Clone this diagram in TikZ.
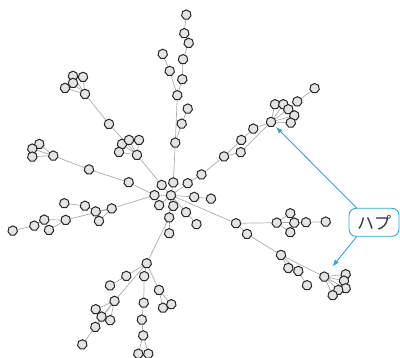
\documentclass[tikz,border=0pt]{standalone}
\usepackage{fontspec}
\newfontfamily\cjk{Noto Sans CJK JP}
\usetikzlibrary{shapes.geometric,arrows.meta,backgrounds}
\definecolor{nfill}{HTML}{E4E4E4}
\definecolor{nline}{HTML}{262626}
\definecolor{eline}{HTML}{ACACAC}
\definecolor{callc}{HTML}{2AA8E2}
\begin{document}
\begin{tikzpicture}[x=1pt,y=-1pt,
  nd/.style={regular polygon, regular polygon sides=7, minimum size=9.6pt, inner sep=0pt, draw=nline, fill=nfill, line width=1pt},
  ed/.style={draw=eline, line width=0.7pt},
  callout/.style={draw=callc, line width=0.9pt, rounded corners=7pt, fill=white, minimum width=50pt, minimum height=28pt, inner sep=0pt, text=black!80, font=\cjk\fontsize{17}{17}\selectfont},
  arr/.style={draw=callc, line width=0.9pt, -{Latex[length=7pt,width=5pt]}}]
\useasboundingbox (0,0) rectangle (400,358);
% top branch
\node[nd] (t1) at (186.3,14.7) {};
\node[nd] (t2) at (184.3,33.3) {};
\node[nd] (t3) at (188.7,43) {};
\node[nd] (t4) at (162.7,54) {};
\node[nd] (t5) at (183,59.3) {};
\node[nd] (t6) at (169.7,71) {};
\node[nd] (t7) at (182.3,79.3) {};
\node[nd] (t8) at (177.3,95.3) {};
\node[nd] (t9) at (187.7,108.7) {};
\node[nd] (t10) at (181.7,123.7) {};
\node[nd] (t11) at (175.3,142.7) {};
% top-left
\node[nd] (a1) at (73,76) {};
\node[nd] (a2) at (83,77) {};
\node[nd] (a3) at (73,83) {};
\node[nd] (a4) at (65,88) {};
\node[nd] (a5) at (85,94) {};
\node[nd] (a6) at (109,124) {};
\node[nd] (a7) at (122,144) {};
\node[nd] (a8) at (129,140) {};
\node[nd] (a9) at (139,140) {};
\node[nd] (a10) at (119,152) {};
\node[nd] (a11) at (137,155) {};
% left
\node[nd] (b1) at (39.3,144) {};
\node[nd] (b2) at (32.3,148.7) {};
\node[nd] (b3) at (32.3,156.7) {};
\node[nd] (b4) at (53.3,155.7) {};
\node[nd] (b5) at (89,169.5) {};
\node[nd] (b6) at (128.7,182.3) {};
% lower-left
\node[nd] (l1) at (111.7,208.5) {};
\node[nd] (l2) at (95.7,211.5) {};
\node[nd] (l3) at (85,205.8) {};
\node[nd] (l4) at (64.3,203.3) {};
\node[nd] (l5) at (99,221) {};
\node[nd] (l6) at (65.7,220) {};
\node[nd] (l7) at (44.3,219.7) {};
\node[nd] (l8) at (49,230) {};
\node[nd] (l9) at (34.3,225.7) {};
\node[nd] (l10) at (12.7,230.7) {};
% centre
\node[nd] (h0) at (171,195.3) {};
\node[nd] (c1) at (161.7,185) {};
\node[nd] (c2) at (173.3,182.5) {};
\node[nd] (c3) at (187.7,183.3) {};
\node[nd] (c4) at (154.5,195.2) {};
\node[nd] (c5) at (194.2,197) {};
\node[nd] (c6) at (211,198.7) {};
\node[nd] (c7) at (159.2,205.2) {};
\node[nd] (c8) at (173.3,206) {};
\node[nd] (c9) at (169.2,217.5) {};
\node[nd] (c10) at (186,212.2) {};
\node[nd] (c11) at (196.5,224.2) {};
\node[nd] (c12) at (169.2,233.3) {};
\node[nd] (c13) at (201.5,174.5) {};
% upper-right
\node[nd] (u1) at (224,156.5) {};
\node[nd] (u2) at (241.3,140) {};
\node[nd] (u3) at (253.3,128.7) {};
\node[nd] (u4) at (240.7,152.2) {};
\node[nd] (hr) at (271,122) {};
\node[nd] (u5) at (275,104.3) {};
\node[nd] (u6) at (283.3,104.3) {};
\node[nd] (u7) at (288.3,109.3) {};
\node[nd] (u8) at (294.3,115.5) {};
\node[nd] (u9) at (290.8,122.7) {};
\node[nd] (u10) at (297.3,101.5) {};
\node[nd] (u11) at (314.6,88.3) {};
% right
\node[nd] (r1) at (236,223.3) {};
\node[nd] (r2) at (247,234) {};
\node[nd] (r3) at (276.7,222.7) {};
\node[nd] (r4) at (290.3,213.3) {};
\node[nd] (r5) at (294.3,222.7) {};
\node[nd] (r6) at (290.3,232.3) {};
\node[nd] (r7) at (306,222.3) {};
\node[nd] (r8) at (325.7,221.7) {};
\node[nd] (r9) at (281,255) {};
\node[nd] (r10) at (288.3,268) {};
\node[nd] (r11) at (298.3,271) {};
\node[nd] (r12) at (307,285.3) {};
\node[nd] (hb) at (324.3,276.7) {};
\node[nd] (r13) at (345.7,274.3) {};
\node[nd] (r14) at (344,280.7) {};
\node[nd] (r15) at (345.7,288.3) {};
\node[nd] (r16) at (338.3,290) {};
\node[nd] (r17) at (332.7,295.3) {};
% bottom
\node[nd] (bb) at (146.7,263.3) {};
\node[nd] (e1) at (126.3,276) {};
\node[nd] (e2) at (144.2,276.2) {};
\node[nd] (e3) at (110,285.5) {};
\node[nd] (e4) at (159,290) {};
\node[nd] (e5) at (114.5,301) {};
\node[nd] (e6) at (95.7,309.3) {};
\node[nd] (e7) at (101.5,316.7) {};
\node[nd] (e8) at (110.2,320.2) {};
\node[nd] (e9) at (143.7,302.8) {};
\node[nd] (e10) at (163,307.8) {};
\node[nd] (e11) at (171.3,304.3) {};
\node[nd] (e12) at (95.3,327) {};
\node[nd] (e13) at (141.8,319.7) {};
\node[nd] (e14) at (143.2,335.5) {};
\node[nd] (e15) at (82.3,344.5) {};
\node[nd] (e16) at (138.3,353.8) {};
\node[nd] (e17) at (148.3,353.8) {};
% edges
\begin{scope}[on background layer]
\foreach \p/\q in {t1/t2,t2/t3,t3/t5,t5/t7,t7/t8,t4/t6,t6/t8,t8/t11,t9/t10,t10/t11,t11/c2,
  a5/a1,a5/a2,a5/a3,a5/a4,a5/a6,a6/a11,a11/a7,a11/a8,a11/a9,a11/a10,a11/c1,
  b4/b1,b4/b2,b4/b3,b4/b5,b5/b6,b6/c4,
  c4/l1,l1/l2,l2/l3,l3/l4,l1/l5,l1/l6,l6/l7,l6/l8,l7/l9,l9/l10,
  h0/c1,h0/c2,h0/c3,h0/c4,h0/c5,h0/c7,h0/c8,h0/c10,c5/c6,c10/c11,c9/c12,c9/h0,c3/c13,
  c13/u1,u1/u2,u2/u3,u3/hr,u1/u4,u4/hr,hr/u5,hr/u6,hr/u7,hr/u8,hr/u9,u7/u10,u10/u11,
  h0/r1,r1/r3,r3/r4,r3/r5,r3/r6,r5/r7,r7/r8,r1/r2,r2/r9,r9/hb,r9/r10,r9/r11,r11/r12,
  hb/r13,hb/r14,hb/r15,hb/r16,hb/r17,
  c9/bb,bb/e1,e1/e3,bb/e2,e2/e9,e9/e13,e13/e14,e14/e16,e14/e17,bb/e4,e4/e10,e4/e11,
  bb/e5,e5/e6,e5/e7,e5/e8,e5/e12,e12/e15}
  \draw[ed] (\p) -- (\q);
\end{scope}
% callout
\node[callout] (lbl) at (374,222.3) {ハプ};
\draw[arr, shorten >=2pt] ([xshift=8pt]lbl.north west) -- (hr);
\draw[arr, shorten >=8pt] ([xshift=8pt]lbl.south west) -- (hb);
\end{tikzpicture}
\end{document}
